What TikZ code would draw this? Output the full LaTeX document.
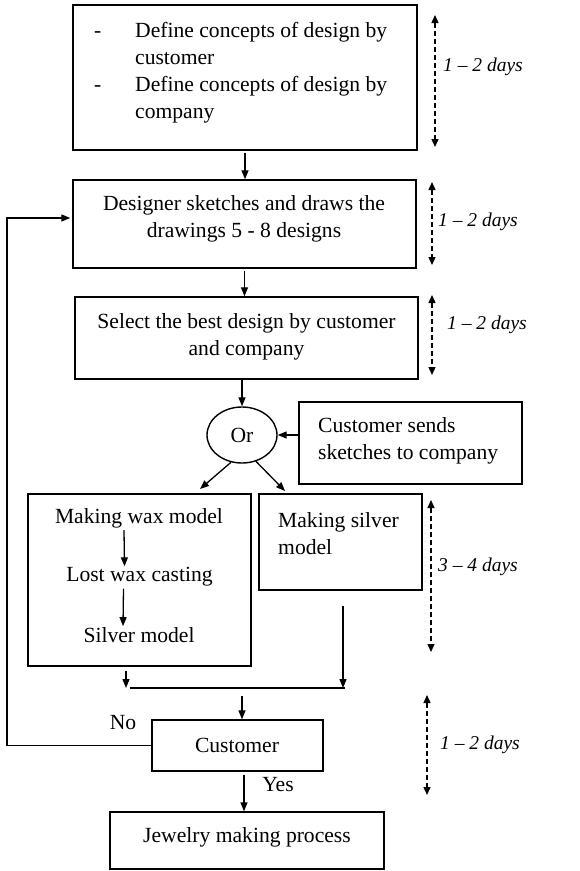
\documentclass[tikz,border=0pt]{standalone}
\usepackage{fontspec}
\setmainfont{Liberation Serif}
\usetikzlibrary{arrows.meta,shapes.geometric}
\begin{document}
\begin{tikzpicture}[x=1pt,y=-1pt,
  box/.style={draw,line width=1.4pt,inner sep=0pt},
  txt/.style={inner sep=0pt,font=\fontsize{21.6}{27}\selectfont},
  lbl/.style={inner sep=0pt,anchor=west,font=\fontsize{19.5}{24}\selectfont\itshape},
  arr/.style={line width=1.3pt,-{Triangle[length=9pt,width=7pt]}},
  darr/.style={line width=1.3pt,dash pattern=on 5pt off 3pt,{Triangle[length=8pt,width=7pt]}-{Triangle[length=8pt,width=7pt]}}]
\useasboundingbox (0,0) rectangle (579,871);
% boxes
\node[box,minimum width=344,minimum height=145] (b1) at (245,77.5) {};
\node[box,minimum width=343,minimum height=88] (b2) at (244.5,224) {};
\node[box,minimum width=343,minimum height=82] (b3) at (246.5,338) {};
\node[draw,ellipse,line width=1.4pt,minimum width=70,minimum height=56,inner sep=0pt,font=\fontsize{21.6}{27}\selectfont] (or) at (242,435) {Or};
\node[box,minimum width=223,minimum height=82] (cs) at (410.5,443) {};
\node[box,minimum width=223,minimum height=172] (wax) at (139.5,580) {};
\node[box,minimum width=163,minimum height=96] (sil) at (340.5,542) {};
\node[box,minimum width=171,minimum height=51] (cust) at (237.5,745.5) {};
\node[box,minimum width=274,minimum height=57] (jw) at (247,840.5) {};
% texts
\node[txt,anchor=west,align=left] (b1t) at (94,72.5) {\begin{tabular}{@{}p{41pt}@{}l@{}}
-&Define concepts of design by\\
 &customer\\
-&Define concepts of design by\\
 &company\end{tabular}};
\node[txt,align=center] (b2t) at (244,218.5) {Designer sketches and draws the\\drawings 5 - 8 designs};
\node[txt,align=center] (b3t) at (246.5,336.5) {Select the best design by customer\\and company};
\node[txt,anchor=west,align=left] (cst) at (318,441) {Customer sends\\sketches to company};
\node[txt] (w1) at (139,518) {Making wax model};
\node[txt] (w2) at (139.5,577) {Lost wax casting};
\node[txt] (w3) at (139,635) {Silver model};
\node[txt,anchor=west,align=left] (silt) at (278,533.5) {Making silver\\model};
\node[txt] (custt) at (237,745) {Customer};
\node[txt] (jwt) at (247,837) {Jewelry making process};
\node[txt] (no) at (123,723) {No};
\node[txt] (yes) at (278,785) {Yes};
% time labels
\node[lbl] (l1) at (443,67) {1 -- 2 days};
\node[lbl] (l2) at (438,222) {1 -- 2 days};
\node[lbl] (l3) at (447,325) {1 -- 2 days};
\node[lbl] (l4) at (438,567) {3 -- 4 days};
\node[lbl] (l5) at (440,745) {1 -- 2 days};
% dashed ranges
\coordinate (d1a) at (435,15); \coordinate (d1b) at (435,147);
\coordinate (d2a) at (432,182); \coordinate (d2b) at (432,265);
\coordinate (d3a) at (432,295); \coordinate (d3b) at (432,375);
\coordinate (d4a) at (431,500); \coordinate (d4b) at (431,652);
\coordinate (d5a) at (427,695); \coordinate (d5b) at (427,795);
\draw[darr] (d1a) -- (d1b);
\draw[darr] (d2a) -- (d2b);
\draw[darr] (d3a) -- (d3b);
\draw[darr] (d4a) -- (d4b);
\draw[darr] (d5a) -- (d5b);
% main flow
\draw[arr] ([yshift=-2pt]b1.south) -- (b1.south |- b2.north);
\draw[arr] ([yshift=-2pt]b2.south) -- (b2.south |- b3.north);
\draw[arr] (b3.south -| or.north) -- (or.north);
\draw[arr] (cs.west |- or.east) -- (or.east);
\coordinate (owl) at (200,489); \coordinate (owr) at (285,491);
\draw[arr] (or.-112) -- (owl);
\draw[arr] (or.-62) -- (owr);
\draw[arr] ([xshift=-15pt,yshift=-2pt]w1.south) -- ([xshift=-15pt,yshift=1pt]w2.north);
\draw[arr] ([xshift=-16pt,yshift=-2pt]w2.south) -- ([xshift=-16pt,yshift=1pt]w3.north);
% merge
\coordinate (mL) at (126,688); \coordinate (mA) at (130,688);
\coordinate (mR) at (343,688); \coordinate (mB) at (345,688);
\coordinate (mC) at (242,696);
\draw[line width=1.3pt] (mA) -- (mB);
\draw[arr] ([yshift=-4pt]wax.south -| mL) -- (mL);
\draw[arr] ([yshift=-15pt]sil.south -| mR) -- (mR);
\draw[arr] (mC) -- (cust.north -| mC);
% feedback
\coordinate (fbx) at (7,0);
\draw[arr] (cust.west) -- (cust.west -| fbx) |- ([yshift=6pt,xshift=-2pt]b2.west);
% yes
\coordinate (yx) at (244,0);
\draw[arr] ([yshift=-3pt]cust.south -| yx) -- (jw.north -| yx);
\end{tikzpicture}
\end{document}
